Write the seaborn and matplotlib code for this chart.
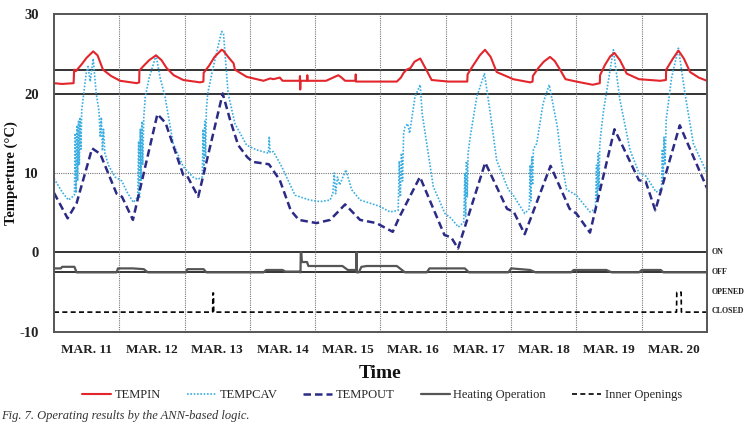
import pandas as pd
import seaborn as sns
import matplotlib.pyplot as plt
import matplotlib.transforms as mtransforms

# hours since MAR. 11 00:00
tempin_h = [0, 3, 7.2, 7.4, 8, 10, 12, 14.4, 16, 18, 21, 24.3, 30.4, 31.3, 31.4, 33, 35, 37.5, 39.5,
            41.4, 44, 47.5, 53.7, 54.9, 55, 57, 59, 61.6, 62.2, 64, 66, 66.5, 70.8, 77, 79.5, 80.6,
            83, 84, 90.3, 90.4, 90.5, 90.6, 93, 93.1, 93.2, 100, 104.5, 105.7, 107, 110.8, 110.9,
            111.0, 112, 118, 126, 127.5, 128.5, 129.6, 131, 132.5, 134.6, 136.5, 138.8, 145, 151.9,
            152, 154, 156.5, 158.4, 160.5, 162.7, 168.8, 175, 175.9, 176, 178, 180, 182.3, 184,
            186, 188, 192, 198, 200.6, 200.7, 202.5, 204.5, 206, 208, 210.5, 215, 222.8, 224.9,
            225, 227.5, 229.5, 231.5, 233.8, 237, 240]
tempin = [21.3, 21.2, 21.3, 23.0, 22.8, 23.6, 24.5, 25.3, 24.8, 23.0, 22.2, 21.6, 21.3, 21.4, 22.9, 23.5,
          24.2, 24.8, 24.2, 23.2, 22.3, 21.7, 21.4, 21.5, 22.6, 23.5, 24.6, 25.5, 25.4, 24.6, 23.8,
          23.0, 22.1, 21.6, 21.9, 21.8, 22.0, 21.6, 21.6, 22.2, 20.5, 21.6, 21.6, 22.3, 21.6, 21.6,
          22.3, 22.0, 21.6, 21.6, 22.4, 21.5, 21.5, 21.5, 21.5, 22.0, 22.6, 23.0, 23.2, 24.0, 24.4,
          23.2, 21.7, 21.5, 21.5, 22.4, 23.5, 24.8, 25.5, 24.6, 22.7, 21.8, 21.4, 21.5, 22.2, 23.2,
          24.0, 24.6, 24.1, 23.0, 21.8, 21.5, 21.1, 21.3, 22.3, 23.6, 24.7, 25.1, 24.2, 22.5, 21.8,
          21.6, 21.7, 23.0, 24.4, 25.4, 24.4, 22.7, 22.0, 21.6]

tempcav_h = [0, 3, 5.3, 7.5, 7.8, 8.1, 8.4, 8.7, 9.0, 9.3, 9.6, 9.9, 10.2, 10.8, 11.8, 12.5, 13.3, 14.4,
             15.5, 16.5, 17.0, 17.4, 17.8, 18.2, 18.7, 20, 22.4, 24.9, 27, 29.2, 30.8, 31.1, 31.4,
             31.7, 32.0, 32.3, 32.6, 33, 33.5, 35, 37.5, 39, 40.8, 43.8, 47.5, 51, 52.8, 54.5, 54.8,
             55.1, 55.4, 55.7, 56, 56.5, 58, 60, 61.6, 62.3, 64, 66.5, 70.8, 74.5, 78.8, 79.1, 79.4,
             80.6, 83.7, 88.6, 94, 97.8, 101.5, 102.5, 103, 103.5, 104.2, 105, 107.3, 109.4, 112.5,
             119.8, 123.5, 126.5, 126.9, 127.3, 127.7, 128.1, 128.5, 129, 130, 130.7, 132.7, 134.6,
             135.3, 137, 139.4, 143.7, 146, 148.6, 150.6, 151, 151.3, 151.6, 151.9, 152.2, 153, 155.4,
             158.2, 160.2, 162.7, 167, 168.8, 173, 174.7, 175, 175.3, 175.6, 175.9, 176.2, 177.4,
             179.8, 182, 185, 186.5, 188.4, 192, 197, 199, 199.4, 199.7, 200, 200.3, 200.6, 201, 202,
             205.6, 208, 211.7, 215, 217.6, 221.3, 223.3, 223.6, 223.9, 224.2, 224.6, 225, 227,
             229.5, 231.9, 235, 240]
tempcav = [9.3, 7.6, 6.6, 7.2, 15.0, 7.5, 16.0, 9.0, 16.5, 11.0, 17.0, 13.0, 18.0, 19.6, 22.5, 23.4, 21.5,
           24.4, 20.0, 17.9, 14.5, 17.0, 12.8, 15.5, 12.5, 11.0, 9.5, 9.0, 7.5, 6.3, 7.0, 14.0, 6.8,
           15.5, 9.0, 16.5, 11.0, 17.0, 19.5, 22.0, 24.8, 22.0, 19.6, 13.7, 10.8, 9.5, 9.2, 9.5, 15.5,
           10.0, 16.5, 12.0, 18.0, 20.0, 22.5, 25.5, 27.8, 27.5, 20.0, 16.2, 13.5, 12.9, 12.5, 14.6,
           12.6, 12.7, 10.8, 7.2, 6.6, 6.4, 6.6, 7.5, 10.0, 7.4, 9.5, 8.5, 10.4, 7.9, 6.6, 5.8, 5.1,
           5.3, 11.5, 7.0, 12.5, 9.0, 15.0, 15.8, 16.2, 15.0, 19.6, 21.1, 17.5, 13.7, 8.3, 4.9, 4.3,
           3.2, 3.8, 10.0, 4.5, 11.5, 7.0, 12.5, 14.6, 19.6, 22.5, 17.9, 11.6, 7.9, 7.2, 4.9, 5.5,
           11.0, 6.5, 12.0, 8.5, 13.0, 13.7, 18.8, 21.1, 15.8, 11.6, 7.9, 7.2, 5.1, 5.5, 11.0, 6.5,
           12.5, 8.0, 13.5, 15.0, 17.9, 25.5, 19.2, 12.9, 10.0, 9.6, 7.6, 8.0, 13.0, 9.0, 14.5, 11.0,
           16.7, 22.0, 25.7, 20.0, 13.7, 10.0]

tempout_h = [0, 5, 8.3, 14, 17, 23, 25, 29, 38, 41, 47.5, 49, 53, 62, 64.7, 67.7, 71, 73, 79, 83, 87, 90,
             96.5, 101.5, 107, 112.5, 118.5, 124.5, 127, 134.5, 143.5, 146, 148.5, 158.5, 166.5, 169,
             173, 182.5, 189.5, 192, 197, 206, 215, 217.5, 221, 230, 240]
tempout = [7.5, 4.3, 6.2, 13.1, 12.4, 7.4, 7.0, 4.1, 17.4, 16.3, 9.75, 9.6, 7.0, 20.0, 16.7, 13.5, 12.0,
           11.4, 11.1, 9.1, 5.3, 4.1, 3.7, 4.1, 6.05, 4.1, 3.7, 2.6, 4.5, 9.5, 2.2, 1.9, 0.5, 11.3, 5.5,
           5.1, 2.3, 10.9, 5.5, 4.9, 2.5, 15.5, 9.1, 8.9, 5.3, 16.0, 8.1]

# heating operation drawn between OFF (-2.5) and ON (0)
heat_h = [0, 2.5, 3, 7.5, 8.3, 23, 23.5, 29, 33, 34.5, 48.5, 49, 55, 56, 77, 78, 84, 85, 90, 90.6, 90.7,
          90.9, 91.1, 93, 93.5, 106, 108, 111.1, 111.2, 111.3, 112, 113, 115, 126, 129, 137, 138, 151,
          152.5, 167, 168, 175, 177, 190, 191, 203, 205, 215, 216, 223, 224, 240]
heat = [-2.0, -2.0, -1.8, -1.8, -2.5, -2.5, -2.0, -2.0, -2.1, -2.5, -2.5, -2.1, -2.1, -2.5, -2.5, -2.2,
        -2.2, -2.4, -2.4, -2.5, 0.0, 0.0, -1.2, -1.2, -1.7, -1.7, -2.2, -2.2, 0.0, -2.5, -2.5, -1.8,
        -1.7, -1.7, -2.5, -2.5, -2.0, -2.0, -2.5, -2.5, -2.0, -2.2, -2.5, -2.5, -2.2, -2.2, -2.5, -2.5,
        -2.2, -2.2, -2.5, -2.5]

# inner openings: CLOSE (-7.5) / OPEN (-5)
open_h = [0, 58.3, 58.4, 58.6, 58.7, 228.8, 228.9, 230.5, 230.6, 240]
openings = [-7.5, -7.5, -5.1, -5.1, -7.5, -7.5, -5.0, -5.0, -7.5, -7.5]

day_labels = ["MAR. 11", "MAR. 12", "MAR. 13", "MAR. 14", "MAR. 15",
              "MAR. 16", "MAR. 17", "MAR. 18", "MAR. 19", "MAR. 20"]
state_labels = ["ON", "OFF", "OPENED", "CLOSED"]
state_levels = [0, -2.5, -5.0, -7.4]

sns.set_theme(style="white")
plt.rcParams['font.family'] = ['Liberation Serif', 'DejaVu Serif']
plt.rcParams['axes.unicode_minus'] = False

fig = plt.figure(figsize=(7.46, 4.22), dpi=100)
ax = fig.add_axes([0.0724, 0.2133, 0.8753, 0.7535])

# reference lines
for lvl in [23, 20, 0, -2.5]:
    ax.axhline(lvl, color="#333333", lw=1.4, zorder=1)
ax.axhline(10, color="#777777", lw=0.8, ls=(0, (1, 1)), zorder=1)
for d in range(1, 10):
    ax.axvline(24 * d, color="#777777", lw=0.8, ls=(0, (1, 1)), zorder=1)

kw = dict(ax=ax, estimator=None, sort=False)
sns.lineplot(x=heat_h, y=heat, color="#555555", lw=1.6, label="Heating Operation", **kw)
sns.lineplot(x=open_h, y=openings, color="black", lw=1.2, ls=(0, (3, 2)), label="Inner Openings", **kw)
sns.lineplot(x=tempcav_h, y=tempcav, color="#3aaee2", lw=1.2, ls=(0, (1, 1)), label="TEMPCAV", **kw)
sns.lineplot(x=tempout_h, y=tempout, color="#2b2b86", lw=1.8, ls=(0, (3, 1.6)), label="TEMPOUT", **kw)
sns.lineplot(x=tempin_h, y=tempin, color="#e3262b", lw=1.5, label="TEMPIN", **kw)

ax.set_xlim(0, 240)
ax.set_ylim(-10, 30)
ax.set_yticks([-10, 0, 10, 20, 30])
ax.set_xticks([12 + 24 * i for i in range(10)])
ax.set_xticklabels(day_labels)
ax.tick_params(axis="both", length=0)
ax.tick_params(axis="y", pad=11, labelsize=10.5)
ax.tick_params(axis="x", pad=9, labelsize=9.5)
for t in ax.get_xticklabels() + ax.get_yticklabels():
    t.set_fontweight("bold")
    t.set_color("#222222")
ax.set_xlabel("Time", fontsize=14, fontweight="bold", labelpad=6, color="#111111")
ax.set_ylabel("Temperture (°C)", fontsize=10.5, fontweight="bold", labelpad=1, color="#111111")
for s in ax.spines.values():
    s.set_color("#555555")
    s.set_linewidth(1.4)

trans = mtransforms.blended_transform_factory(ax.transAxes, ax.transData)
for lab, lvl in zip(state_labels, state_levels):
    ax.text(1.007, lvl, lab, transform=trans, fontsize=5.8, fontweight="bold",
            va="center", ha="left", clip_on=False, color="#222222")

handles, labels = ax.get_legend_handles_labels()
order = ["TEMPIN", "TEMPCAV", "TEMPOUT", "Heating Operation", "Inner Openings"]
hmap = dict(zip(labels, handles))
ax.legend([hmap[k] for k in order], order, loc="center", bbox_to_anchor=(0.512, 0.064),
          bbox_transform=fig.transFigure, ncol=5, frameon=False, fontsize=9,
          handlelength=2.3, handletextpad=0.3, columnspacing=2.1)

fig.text(0.002, 1 - 416 / 422, "Fig. 7. Operating results by the ANN-based logic.",
         fontsize=9, style="italic", va="center", ha="left", color="#333333")

fig.savefig("out.png", dpi=100)
